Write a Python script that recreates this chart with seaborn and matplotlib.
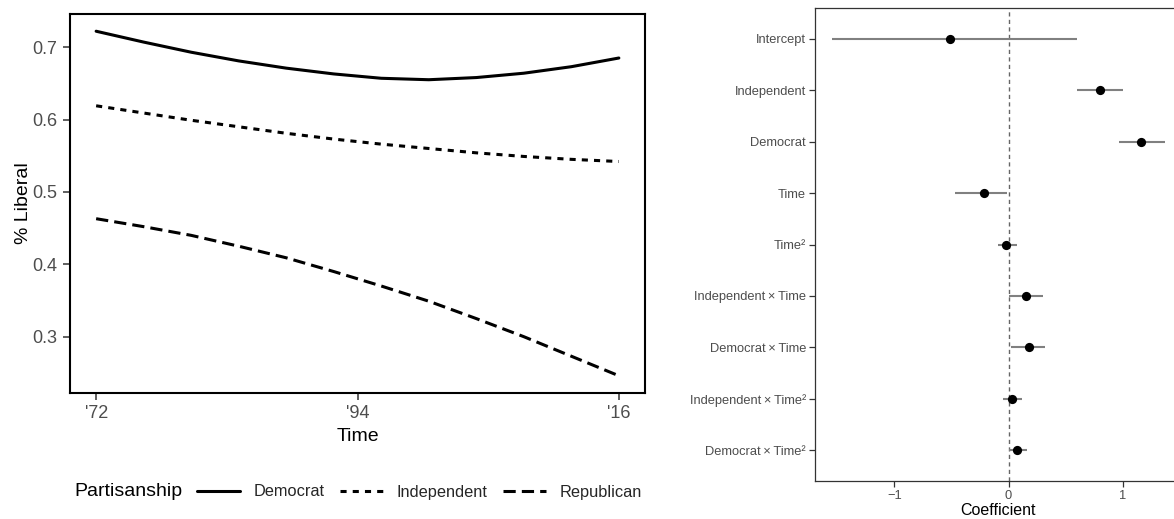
import numpy as np
import pandas as pd
import matplotlib
matplotlib.use("Agg")
import matplotlib.pyplot as plt
from matplotlib.lines import Line2D
import seaborn as sns

# ---------------- data ----------------
years = [1972, 1976, 1980, 1984, 1988, 1992, 1996, 2000, 2004, 2008, 2012, 2016]
democrat = [0.722, 0.707, 0.693, 0.681, 0.671, 0.663, 0.657, 0.655, 0.658, 0.664, 0.673, 0.685]
independent = [0.619, 0.609, 0.599, 0.590, 0.581, 0.573, 0.566, 0.560, 0.554, 0.549, 0.545, 0.542]
republican = [0.463, 0.452, 0.440, 0.425, 0.409, 0.390, 0.370, 0.349, 0.325, 0.300, 0.273, 0.246]
parties = ["Democrat", "Independent", "Republican"]
x_ticks = [1972, 1994, 2016]
x_ticklabels = ["'72", "'94", "'16"]
y_ticks = [0.3, 0.4, 0.5, 0.6, 0.7]

terms = ["Intercept", "Independent", "Democrat", "Time", "Time\u00b2",
         "Independent\u2009\u00d7\u2009Time", "Democrat\u2009\u00d7\u2009Time",
         "Independent\u2009\u00d7\u2009Time\u00b2", "Democrat\u2009\u00d7\u2009Time\u00b2"]
estimate = [-0.51, 0.805, 1.165, -0.217, -0.026, 0.149, 0.18, 0.032, 0.07]
ci_low = [-1.55, 0.60, 0.97, -0.47, -0.094, 0.006, 0.018, -0.044, 0.0]
ci_high = [0.60, 1.00, 1.37, -0.01, 0.076, 0.30, 0.322, 0.117, 0.161]
coef_ticks = [-1, 0, 1]

# ---------------- style ----------------
sns.set_theme(style="white")
plt.rcParams["font.family"] = ["Liberation Sans", "DejaVu Sans"]
plt.rcParams["axes.unicode_minus"] = True

W, H = 1174, 519
fig = plt.figure(figsize=(W / 100, H / 100), dpi=100)
fig.patch.set_facecolor("white")

# ---------------- left panel ----------------
axL = fig.add_axes([70 / W, 1 - 393 / H, 575 / W, 379 / H])
long = pd.DataFrame({
    "Time": years * 3,
    "Liberal": democrat + independent + republican,
    "Partisanship": [parties[0]] * len(years) + [parties[1]] * len(years) + [parties[2]] * len(years),
})
dash_map = {"Democrat": "", "Independent": (2, 2), "Republican": (4, 2)}
sns.lineplot(data=long, x="Time", y="Liberal", style="Partisanship",
             dashes=dash_map, color="black", linewidth=2.2, ax=axL, legend=False,
             estimator=None, sort=True)
axL.set_xlim(1969.8, 2018.2)
axL.set_ylim(0.2222, 0.7458)
axL.set_xticks(x_ticks)
axL.set_xticklabels(x_ticklabels)
axL.set_yticks(y_ticks)
axL.set_yticklabels([f"{v:.1f}" for v in y_ticks])
axL.tick_params(axis="both", which="major", length=5, width=1.1, color="#333333",
                labelsize=13, labelcolor="#4D4D4D", pad=4, direction="out",
                bottom=True, left=True)
for s in axL.spines.values():
    s.set_color("black")
    s.set_linewidth(1.5)
axL.set_xlabel("Time", fontsize=14, color="black", labelpad=4)
axL.set_ylabel("% Liberal", fontsize=14, color="black")
axL.yaxis.set_label_coords(-0.066, 0.5)

# legend (title placed to the left, ggplot style)
fig.text(74 / W, 1 - 492 / H, "Partisanship", fontsize=14, color="black",
         ha="left", va="center")
handles = [Line2D([], [], color="black", lw=2.2, linestyle="-"),
           Line2D([], [], color="black", lw=2.2, linestyle=(0, (2, 2))),
           Line2D([], [], color="black", lw=2.2, linestyle=(0, (4, 2)))]
fig.legend(handles, parties, loc="center left", bbox_to_anchor=(197 / W, 1 - 492 / H),
           ncol=3, frameon=False, fontsize=11.8, handlelength=2.6,
           handletextpad=0.85, columnspacing=0.95, borderpad=0, borderaxespad=0)

# ---------------- right panel ----------------
axR = fig.add_axes([815 / W, 1 - 481 / H, 366.5 / W, 473 / H])
coefs = pd.DataFrame({"term": terms, "estimate": estimate, "low": ci_low,
                      "high": ci_high, "pos": np.arange(len(terms))})
axR.axvline(0, color="#666666", lw=1.0, linestyle=(0, (3, 2.4)), zorder=1)
axR.hlines(coefs["pos"], coefs["low"], coefs["high"], color="#808080", lw=1.5, zorder=2)
sns.scatterplot(data=coefs, x="estimate", y="pos", color="black", s=44,
                edgecolor="black", linewidth=0, ax=axR, zorder=3, legend=False)
axR.set_xlim(-1.696, 1.516)
axR.set_ylim(len(terms) - 1 + 0.6, -0.6)
axR.set_yticks(coefs["pos"])
axR.set_yticklabels(terms)
axR.set_xticks(coef_ticks)
axR.set_xticklabels(["\u22121", "0", "1"])
axR.tick_params(axis="both", which="major", length=4, width=0.9, color="#333333",
                labelsize=9.3, labelcolor="#4D4D4D", pad=2.5, direction="out",
                bottom=True, left=True)
for s in axR.spines.values():
    s.set_color("#333333")
    s.set_linewidth(0.9)
axR.set_xlabel("Coefficient", fontsize=11.5, color="black", labelpad=0.5)
axR.set_ylabel("")

fig.savefig("out.png", dpi=100, facecolor="white")
